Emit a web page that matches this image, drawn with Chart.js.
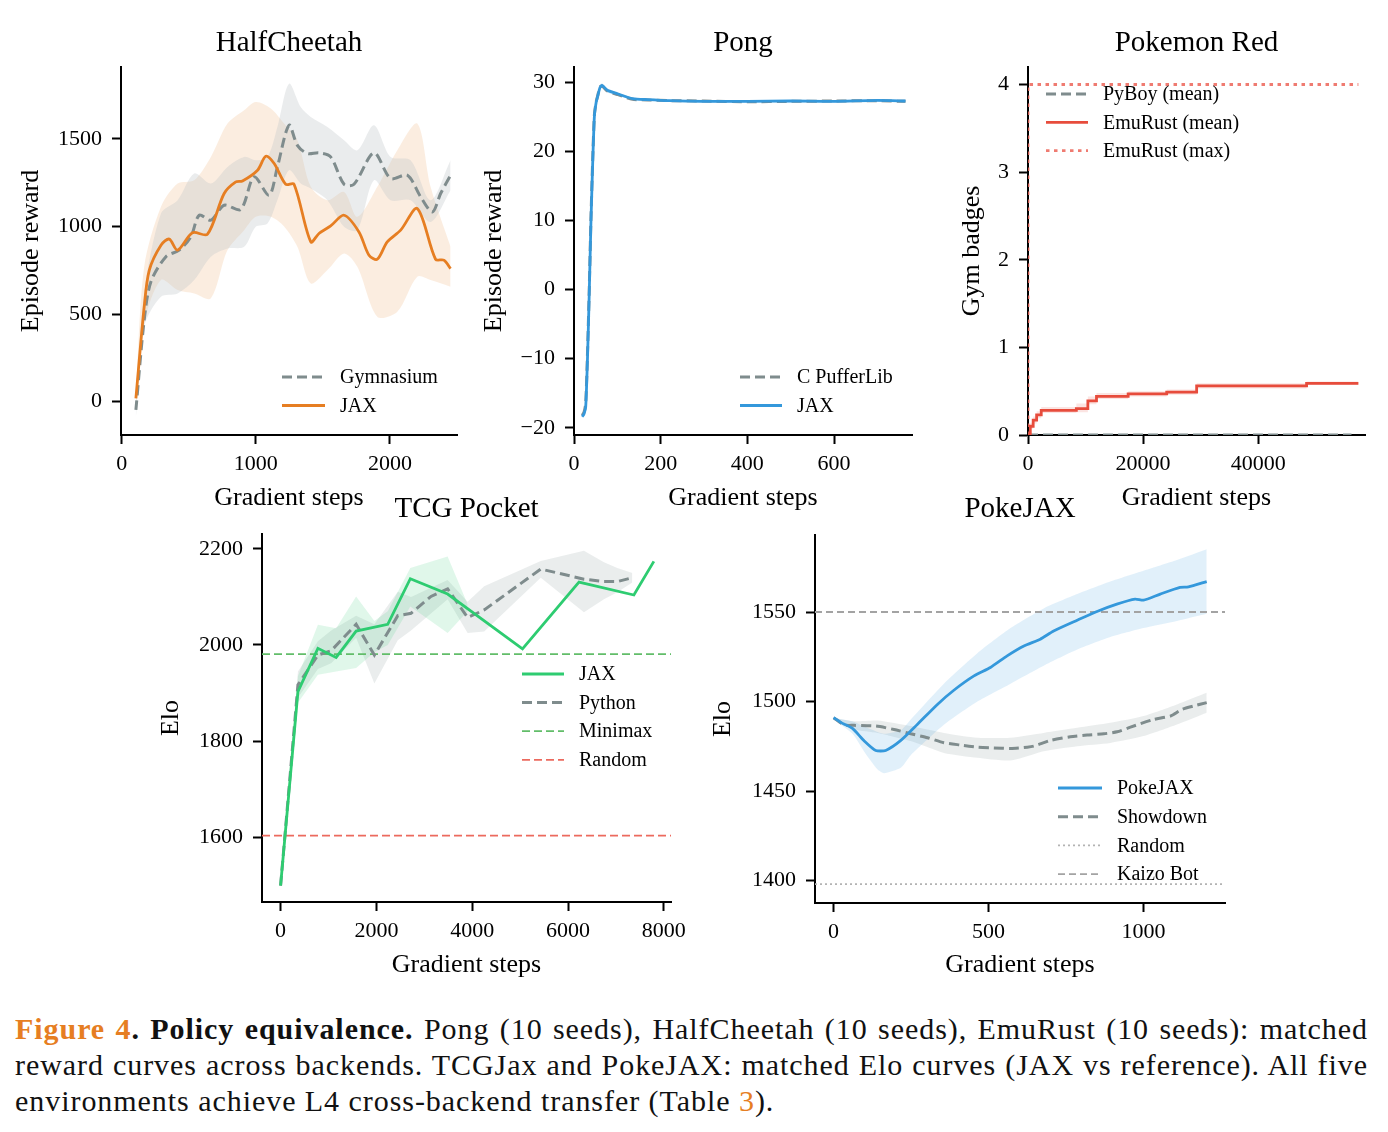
<!DOCTYPE html>
<html><head><meta charset="utf-8">
<script src="https://cdn.jsdelivr.net/npm/chart.js@4.4.1/dist/chart.umd.min.js"></script>
<style>
html,body{margin:0;padding:0;background:#fff;}
#page{position:relative;width:1388px;height:1132px;background:#fff;overflow:hidden;}
canvas{position:absolute;left:0;top:0;}
#caption{position:absolute;left:15px;top:1011px;width:1353px;font-family:"Liberation Serif","Times New Roman",serif;font-size:30px;letter-spacing:0.95px;line-height:36px;color:#111;}
#caption .j{text-align:justify;text-align-last:justify;}
#caption .o{color:#e67e22;}
</style></head>
<body><div id="page">
<canvas id="c1" width="1388" height="990"></canvas>
<canvas id="c2" width="1388" height="990"></canvas>
<canvas id="c3" width="1388" height="990"></canvas>
<canvas id="c4" width="1388" height="990"></canvas>
<canvas id="c5" width="1388" height="990"></canvas>
<div id="caption">
<div class="j"><b><span class="o">Figure 4</span>. Policy equivalence.</b> Pong (10 seeds), HalfCheetah (10 seeds), EmuRust (10 seeds): matched</div>
<div class="j">reward curves across backends. TCGJax and PokeJAX: matched Elo curves (JAX vs reference). All five</div>
<div>environments achieve L4 cross-backend transfer (Table <span class="o">3</span>).</div>
</div>
</div>
<script>
// ---------------- DATA ----------------
// HalfCheetah
const hcGymSteps = [106,168,218,330,429,516,578,665,764,888,987,1099,1161,1248,1310,1385,1471,1558,1658,1732,1881,2005,2130,2229,2316,2378,2452];
const hcGymMean  = [-47,466,684,827,865,941,1064,1036,1121,1097,1283,1178,1340,1578,1463,1416,1420,1397,1241,1241,1420,1274,1292,1169,1083,1188,1292];
const hcGymBandSteps = [106,168,293,417,541,665,789,913,1000,1087,1161,1248,1335,1410,1534,1658,1757,1881,2005,2154,2303,2452];
const hcGymUpper = [-10,618,1074,1150,1302,1245,1340,1397,1378,1397,1568,1815,1682,1625,1568,1492,1435,1578,1397,1378,1150,1378];
const hcGymLower = [-90,428,599,618,694,827,874,884,998,1017,1150,1321,1245,1217,1150,998,979,1264,1150,1150,1026,1207];
const hcJaxSteps = [106,168,206,293,355,417,528,640,764,851,901,1013,1075,1137,1223,1285,1410,1471,1558,1658,1769,1844,1906,1980,2080,2204,2340,2402,2452];
const hcJaxMean  = [19,542,751,893,928,865,964,956,1188,1254,1260,1321,1401,1359,1241,1241,912,960,1003,1064,969,836,813,912,979,1102,813,808,760];
const hcJaxBandSteps = [106,168,293,417,541,665,789,913,1000,1112,1211,1310,1410,1534,1658,1757,1906,2055,2204,2303,2452];
const hcJaxUpper = [48,770,1112,1245,1264,1397,1587,1663,1710,1673,1587,1492,1226,1150,1197,1055,1226,1435,1587,1226,884];
const hcJaxLower = [-9,447,694,637,618,590,865,979,1055,1055,1000,884,675,751,846,770,485,513,713,694,656];
const hcXTicks = [0,1000,2000];
const hcYTicks = [0,500,1000,1500];

// Pong
const pongSteps  = [19,23,27,31,35,39,43,47,51,55,60,65,77,100,135,170,220,300,400,500,600,700,765];
const pongJax    = [-18.4,-18.0,-17.0,-10.3,-1,9.5,18,25,27,28,29.2,29.5,28.8,28.3,27.6,27.45,27.3,27.2,27.2,27.25,27.2,27.35,27.25];
const pongPuffer = [-18.2,-17.8,-16.5,-9.5,-0.5,10,18.5,25.2,27.1,28.1,29.3,29.4,28.7,28.2,27.5,27.4,27.3,27.25,27.15,27.2,27.25,27.3,27.2];
const pongUpper  = [-18.0,-17.5,-16.0,-9.0,0,10.5,19,25.6,27.4,28.4,29.6,29.8,29.1,28.5,27.8,27.6,27.45,27.35,27.35,27.4,27.4,27.5,27.4];
const pongLower  = [-18.6,-18.3,-17.5,-10.8,-1.5,9,17.5,24.6,26.7,27.7,28.9,29.2,28.5,28.0,27.4,27.3,27.15,27.05,27.05,27.05,27.05,27.15,27.05];
const pongXTicks = [0,200,400,600];
const pongYTicks = [-20,-10,0,10,20,30];

// Pokemon Red
const pkEmuSteps = [0,400,900,1500,2300,8400,10400,11900,17400,24100,29300,48400,57400];
const pkEmuMean  = [0,0.10,0.17,0.23,0.28,0.30,0.39,0.44,0.47,0.49,0.56,0.59,0.59];
const pkEmuUpper = [0.02,0.14,0.21,0.27,0.32,0.36,0.44,0.48,0.50,0.52,0.59,0.61,0.61];
const pkEmuLower = [0,0.07,0.13,0.19,0.25,0.26,0.35,0.41,0.44,0.46,0.53,0.57,0.57];
const pkMaxSteps = [0,0,57400];
const pkEmuMax   = [0,4,4];
const pkPyBoySteps = [0,56200];
const pkPyBoyMean  = [0,0];
const pkXTicks = [0,20000,40000];
const pkYTicks = [0,1,2,3,4];

// TCG Pocket
const tcgJaxSteps = [0,362,779,1160,1577,2237,2708,3487,5050,6229,7375,7792];
const tcgJaxElo   = [1499,1903,1993,1974,2029,2043,2138,2106,1992,2131,2104,2174];
const tcgJaxBandSteps = [0,362,779,1160,1577,1958,2237,2708,3487,3904];
const tcgJaxUpper = [1499,1935,2042,2035,2101,2050,2070,2160,2184,2085];
const tcgJaxLower = [1499,1880,1938,1945,1952,1985,2000,2080,2025,2070];
const tcgPySteps  = [0,362,779,1056,1577,1958,2446,2723,3140,3487,3904,4250,5431,6333,6750,7029,7342];
const tcgPyElo    = [1499,1917,1979,1988,2043,1979,2061,2066,2101,2117,2057,2073,2158,2137,2132,2132,2140];
const tcgPyBandSteps = [0,362,779,1056,1577,1958,2446,2723,3487,3904,4250,5431,6333,6750,7029,7342];
const tcgPyUpper  = [1499,1945,2008,2030,2061,2043,2111,2100,2135,2090,2122,2175,2196,2172,2160,2150];
const tcgPyLower  = [1499,1890,1950,1962,2015,1920,2010,2030,2095,2025,2028,2140,2068,2095,2110,2130];
const tcgRefSteps = [-388,8150];
const tcgMinimax  = [1981,1981];
const tcgRandom   = [1603,1603];
const tcgXTicks = [0,2000,4000,6000,8000];
const tcgYTicks = [1600,1800,2000,2200];

// PokeJAX
const pjSteps = [0,29,61,99,136,168,217,270,335,388,453,506,560,614,667,710,786,850,914,973,1000,1054,1118,1145,1204];
const pjElo   = [1491,1487.8,1485,1478,1472.7,1472.7,1478.3,1487.2,1498.4,1506.3,1514.3,1519,1525.5,1531,1534.8,1539.4,1545.4,1550.3,1554.4,1557.2,1556.6,1560,1563.7,1564,1567];
const pjBandSteps = [0,61,99,142,163,217,249,356,464,571,678,786,893,1000,1108,1204];
const pjUpper = [1491,1489,1486,1483,1482,1484,1490,1510,1527,1541,1552,1560,1567,1573,1579,1585];
const pjLower = [1490,1482,1472,1462,1460,1463,1470,1487,1500,1510,1520,1529,1536,1541,1545,1549];
const sdSteps = [0,34,66,136,195,249,303,356,410,464,517,571,625,646,700,764,818,872,915,958,1033,1087,1124,1162,1204];
const sdElo   = [1491,1486.9,1486.7,1486.3,1484.4,1482,1479.8,1477,1475.7,1474.5,1474.1,1473.8,1474.5,1475.1,1478.3,1480.3,1481.3,1482,1483.1,1485.7,1490,1491.9,1495.6,1497.5,1499.4];
const sdBandSteps = [0,66,142,249,356,464,571,678,786,893,1000,1108,1204];
const sdUpper = [1491,1489,1489.4,1486.3,1482.5,1479.8,1479.8,1482.5,1485.3,1488.1,1491.9,1498.4,1504.9];
const sdLower = [1490,1484.4,1482.5,1477.9,1471.3,1468.6,1467.1,1472.3,1475.1,1476.9,1480.7,1487.2,1493.8];
const pjRefSteps = [-60,1263];
const pjRandom = [1398,1398];
const pjKaizo  = [1550,1550];
const pjXTicks = [0,500,1000];
const pjYTicks = [1400,1450,1500,1550];

// ---------------- HELPERS ----------------
const FONT = '"Liberation Serif","Times New Roman",serif';
const CW = 1388, CH = 990, YW = 90, XH = 48;
function pts(xs, ys){ return xs.map((x,i)=>({x:x, y:ys[i]})); }
function line(label, xs, ys, color, width, dash, extra){
  return Object.assign({label, data:pts(xs,ys), borderColor:color, backgroundColor:color, borderWidth:width,
    borderDash:dash||[], pointRadius:0, fill:false, order:1, tension:0}, extra||{});
}
function band(xs, up, lo, color, tension, stepped){
  return [
    {label:'', data:pts(xs,up), borderWidth:0, borderColor:'rgba(0,0,0,0)', backgroundColor:color, pointRadius:0, fill:'+1', order:5, tension:tension||0, stepped:stepped||false},
    {label:'', data:pts(xs,lo), borderWidth:0, borderColor:'rgba(0,0,0,0)', backgroundColor:color, pointRadius:0, fill:false, order:5, tension:tension||0, stepped:stepped||false}
  ];
}
function fmt(v){ return String(v).replace('-', '\u2212'); }
function axis(which, a){
  return {
    type:'linear', position: which==='x'?'bottom':'left', min:a.min, max:a.max,
    afterFit: s => { if (which==='x') s.height = XH; else s.width = YW; },
    afterBuildTicks: s => { s.ticks = a.ticks.map(v=>({value:v})); },
    grid:{display:true, drawOnChartArea:false, drawTicks:true, tickLength:9, tickWidth:2, color:'#000'},
    border:{display:true, color:'#000', width:2},
    ticks:{font:{family:FONT, size:22}, color:'#000', padding: which==='x'?7:10, autoSkip:false, maxRotation:0, minRotation:0,
      callback: v => fmt(v)}
  };
}
function textPlugin(t){
  return {id:'panelText', afterDraw(chart){
    const ctx = chart.ctx, ca = chart.chartArea;
    const cx = (ca.left+ca.right)/2, cy = (ca.top+ca.bottom)/2;
    ctx.save();
    ctx.fillStyle = '#000';
    ctx.textAlign = 'center'; ctx.textBaseline = 'alphabetic';
    ctx.font = '29px ' + FONT;
    ctx.fillText(t.title, cx, t.titleY);
    ctx.font = '26px ' + FONT;
    ctx.fillText(t.xLabel, cx, t.xLabelY);
    ctx.save(); ctx.translate(t.yLabelX, cy); ctx.rotate(-Math.PI/2); ctx.fillText(t.yLabel, 0, 0); ctx.restore();
    const lg = t.legend;
    ctx.font = '20px ' + FONT; ctx.textAlign = 'left'; ctx.textBaseline = 'middle';
    lg.items.forEach((di, i) => {
      const ds = chart.data.datasets[di];
      const y = lg.y + i*lg.gap;
      ctx.save();
      ctx.strokeStyle = ds.borderColor; ctx.lineWidth = ds.borderWidth; ctx.setLineDash(ds.borderDash||[]);
      ctx.beginPath(); ctx.moveTo(lg.x0, y); ctx.lineTo(lg.x1, y); ctx.stroke();
      ctx.restore();
      ctx.fillText(ds.label, lg.tx, y + 1);
    });
    ctx.restore();
  }};
}
function makeChart(id, area, x, y, datasets, text){
  new Chart(document.getElementById(id), {
    type:'line',
    data:{datasets},
    options:{
      responsive:false, animation:false, devicePixelRatio:1,
      layout:{padding:{left:area.left-YW, top:area.top, right:CW-area.right, bottom:CH-area.bottom-XH}},
      plugins:{legend:{display:false}, tooltip:{enabled:false}},
      scales:{x:axis('x', x), y:axis('y', y)}
    },
    plugins:[textPlugin(text)]
  });
}

// ---------------- CHARTS ----------------
const GRAY = '#7f8c8d', ORANGE = '#e67e22', BLUE = '#3498db', RED = '#e74c3c', GREEN = '#2ecc71';

makeChart('c1', {left:121, right:457, top:67, bottom:435},
  {min:-5, max:2500, ticks:hcXTicks}, {min:-190, max:1910, ticks:hcYTicks},
  [
    line('Gymnasium', hcGymSteps, hcGymMean, GRAY, 3, [10,5], {tension:0.3}),
    line('JAX', hcJaxSteps, hcJaxMean, ORANGE, 2.8, [], {tension:0.3, order:0}),
    ...band(hcGymBandSteps, hcGymUpper, hcGymLower, 'rgba(189,195,199,0.32)', 0.3),
    ...band(hcJaxBandSteps, hcJaxUpper, hcJaxLower, 'rgba(230,126,34,0.14)', 0.3)
  ],
  {title:'HalfCheetah', titleY:51, xLabel:'Gradient steps', xLabelY:505, yLabel:'Episode reward', yLabelX:38,
   legend:{x0:282, x1:325, tx:340, y:377, gap:28.5, items:[0,1]}});

makeChart('c2', {left:574, right:912, top:67, bottom:435},
  {min:0, max:780, ticks:pongXTicks}, {min:-21.05, max:32.17, ticks:pongYTicks},
  [
    line('C PufferLib', pongSteps, pongPuffer, GRAY, 3, [10,5], {tension:0.2}),
    line('JAX', pongSteps, pongJax, BLUE, 2.8, [], {tension:0.2, order:0}),
    ...band(pongSteps, pongUpper, pongLower, 'rgba(52,152,219,0.2)', 0.2)
  ],
  {title:'Pong', titleY:51, xLabel:'Gradient steps', xLabelY:505, yLabel:'Episode reward', yLabelX:501,
   legend:{x0:740, x1:782, tx:797, y:377, gap:28.5, items:[0,1]}});

makeChart('c3', {left:1028, right:1365, top:67, bottom:435},
  {min:0, max:58550, ticks:pkXTicks}, {min:0, max:4.2, ticks:pkYTicks},
  [
    line('PyBoy (mean)', pkPyBoySteps, pkPyBoyMean, GRAY, 3, [10,5]),
    line('EmuRust (mean)', pkEmuSteps, pkEmuMean, RED, 2.8, [], {stepped:'before', order:0}),
    line('EmuRust (max)', pkMaxSteps, pkEmuMax, 'rgba(236,100,88,0.85)', 2.8, [3.5,4.5]),
    ...band(pkEmuSteps, pkEmuUpper, pkEmuLower, 'rgba(231,76,60,0.15)', 0, 'before')
  ],
  {title:'Pokemon Red', titleY:51, xLabel:'Gradient steps', xLabelY:505, yLabel:'Gym badges', yLabelX:979,
   legend:{x0:1046, x1:1088, tx:1103, y:94, gap:28.3, items:[0,1,2]}});

makeChart('c4', {left:262, right:671, top:534, bottom:902},
  {min:-388, max:8150, ticks:tcgXTicks}, {min:1465, max:2231, ticks:tcgYTicks},
  [
    line('JAX', tcgJaxSteps, tcgJaxElo, GREEN, 2.8, [], {order:0}),
    line('Python', tcgPySteps, tcgPyElo, GRAY, 3, [10,5]),
    line('Minimax', tcgRefSteps, tcgMinimax, '#62bd69', 1.8, [8,4], {order:2}),
    line('Random', tcgRefSteps, tcgRandom, '#ec6a5e', 1.8, [8,4], {order:2}),
    ...band(tcgJaxBandSteps, tcgJaxUpper, tcgJaxLower, 'rgba(46,204,113,0.15)', 0),
    ...band(tcgPyBandSteps, tcgPyUpper, tcgPyLower, 'rgba(149,165,166,0.2)', 0)
  ],
  {title:'TCG Pocket', titleY:517, xLabel:'Gradient steps', xLabelY:972, yLabel:'Elo', yLabelX:178,
   legend:{x0:522, x1:564, tx:579, y:674, gap:28.6, items:[0,1,2,3]}});

makeChart('c5', {left:815, right:1225, top:535, bottom:903},
  {min:-60, max:1263, ticks:pjXTicks}, {min:1387.5, max:1593, ticks:pjYTicks},
  [
    line('PokeJAX', pjSteps, pjElo, BLUE, 2.8, [], {tension:0.2, order:0}),
    line('Showdown', sdSteps, sdElo, GRAY, 3, [10,5], {tension:0.2}),
    line('Random', pjRefSteps, pjRandom, '#b3b3b3', 1.8, [2,3], {order:2}),
    line('Kaizo Bot', pjRefSteps, pjKaizo, '#a3a3a3', 1.8, [7,4], {order:2}),
    ...band(pjBandSteps, pjUpper, pjLower, 'rgba(52,152,219,0.15)', 0.2),
    ...band(sdBandSteps, sdUpper, sdLower, 'rgba(149,165,166,0.2)', 0.2)
  ],
  {title:'PokeJAX', titleY:517, xLabel:'Gradient steps', xLabelY:972, yLabel:'Elo', yLabelX:730,
   legend:{x0:1058, x1:1102, tx:1117, y:788, gap:28.7, items:[0,1,2,3]}});
</script>
</body></html>
